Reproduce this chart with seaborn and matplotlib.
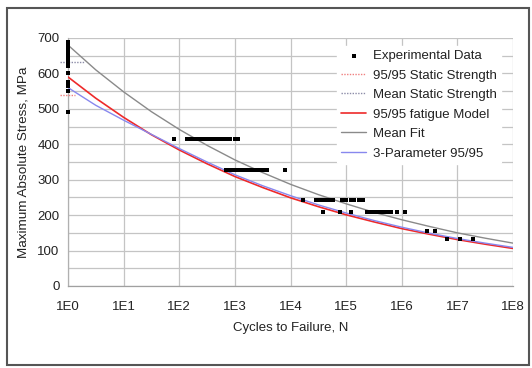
import matplotlib
matplotlib.use("Agg")
import matplotlib.pyplot as plt
import seaborn as sns
import numpy as np
import pandas as pd
from matplotlib.patches import Rectangle
from matplotlib.ticker import LogLocator, FixedLocator, NullFormatter

# ---------------- data ----------------
exp_cycles = [1, 1, 1, 1, 1, 1, 1, 1, 1, 1, 1, 1, 1, 1, 1, 1, 1, 1, 1,
              80, 140, 160, 180, 200, 220, 240, 260, 290, 320, 360, 400, 450, 520, 590, 700, 820, 1000, 1150,
              700, 800, 900, 1000, 1150, 1300, 1500, 1700, 1900, 2200, 2500, 2900, 3300, 3800, 8000,
              17000, 29000, 33000, 38000, 44000, 51000, 59000, 85000, 100000, 120000, 140000, 170000, 200000,
              39000, 78000, 120000, 240000, 280000, 330000, 390000, 460000, 550000, 650000, 830000, 1150000,
              2900000, 4000000,
              6600000, 11000000, 19000000]
exp_stress = [690, 685, 680, 675, 670, 665, 660, 655, 650, 645, 640, 635, 630, 620, 600, 575, 565, 550, 490,
              415, 415, 415, 415, 415, 415, 415, 415, 415, 415, 415, 415, 415, 415, 415, 415, 415, 415, 415,
              327, 327, 327, 327, 327, 327, 327, 327, 327, 327, 327, 327, 327, 327, 327,
              244, 244, 244, 244, 244, 244, 244, 244, 244, 244, 244, 244, 244,
              209, 209, 209, 209, 209, 209, 209, 209, 209, 209, 209, 209,
              156, 156,
              133, 133, 133]

curve_cycles = [1, 3.16e0, 1e1, 3.16e1, 1e2, 3.16e2, 1e3, 3.16e3, 1e4, 3.16e4,
                1e5, 3.16e5, 1e6, 3.16e6, 1e7, 3.16e7, 1e8]
mean_fit = [680, 610, 548, 492, 442, 397, 356, 320, 287, 258, 232, 208, 187, 168, 150, 135, 121]
fatigue_9595 = [590, 530, 476, 427, 384, 345, 309, 278, 249, 224, 201, 181, 162, 146, 131, 118, 106]
three_param = [560, 510, 468, 428, 388, 350, 314, 283, 255, 229, 206, 185, 166, 149, 134, 121, 109]

static_cycles_9595 = [0.72, 1.35]
static_9595 = [540, 540]
static_cycles_mean = [0.72, 2.0]
static_mean = [633, 633]

x_tick_labels = ["1E0", "1E1", "1E2", "1E3", "1E4", "1E5", "1E6", "1E7", "1E8"]
y_ticks = [0, 100, 200, 300, 400, 500, 600, 700]

# ---------------- figure ----------------
sns.set_style("white")
plt.rcParams["font.family"] = ["Liberation Sans", "DejaVu Sans"]

fig = plt.figure(figsize=(5.32, 3.68), dpi=100)
ax = fig.add_axes([68 / 532, 82 / 368, 445 / 532, 248 / 368])

txt = "#222222"

df_exp = pd.DataFrame({"N": exp_cycles, "S": exp_stress})
df_curve = pd.DataFrame({"N": curve_cycles, "mean": mean_fit,
                         "f9595": fatigue_9595, "p3": three_param})

sns.scatterplot(data=df_exp, x="N", y="S", ax=ax, marker="s", s=10, color="black",
                edgecolor="black", linewidth=0, label="Experimental Data", zorder=5,
                clip_on=False)
sns.lineplot(x=static_cycles_9595, y=static_9595, ax=ax, color="#f08080", lw=1,
             linestyle=(0, (1, 1)), label="95/95 Static Strength", clip_on=False,
             estimator=None, sort=False, zorder=4)
sns.lineplot(x=static_cycles_mean, y=static_mean, ax=ax, color="#8c8ca8", lw=1,
             linestyle=(0, (1, 1)), label="Mean Static Strength", clip_on=False,
             estimator=None, sort=False, zorder=4)
sns.lineplot(data=df_curve, x="N", y="f9595", ax=ax, color="#ee2a2a", lw=1.2,
             label="95/95 fatigue Model", estimator=None, sort=False, zorder=3)
sns.lineplot(data=df_curve, x="N", y="mean", ax=ax, color="#8a8a8a", lw=1.0,
             label="Mean Fit", estimator=None, sort=False, zorder=3)
sns.lineplot(data=df_curve, x="N", y="p3", ax=ax, color="#8888ee", lw=1.0,
             label="3-Parameter 95/95", estimator=None, sort=False, zorder=3)

ax.set_xscale("log")
ax.set_xlim(1, 1e8)
ax.set_ylim(0, 700)

ax.xaxis.set_major_locator(FixedLocator([10.0 ** i for i in range(9)]))
ax.set_xticklabels(x_tick_labels)
ax.xaxis.set_minor_locator(LogLocator(base=10, subs=np.arange(2, 10), numticks=100))
ax.xaxis.set_minor_formatter(NullFormatter())
ax.set_yticks(y_ticks)
ax.set_yticks(np.arange(50, 700, 100), minor=True)

ax.grid(True, which="major", axis="x", color="#c4c4c4", lw=0.9)
ax.grid(True, which="both", axis="y", color="#c4c4c4", lw=0.9)
ax.set_axisbelow(True)

for s in ["top", "right"]:
    ax.spines[s].set_visible(False)
ax.spines["left"].set_color("#b0b0b0")
ax.spines["bottom"].set_color("#a0a0a0")
ax.spines["left"].set_linewidth(0.9)
ax.spines["bottom"].set_linewidth(0.9)

ax.tick_params(axis="x", which="major", direction="inout", length=6, color="#a0a0a0",
               labelsize=9.5, labelcolor=txt, pad=8)
ax.tick_params(axis="x", which="minor", direction="inout", length=4, color="#a0a0a0")
ax.tick_params(axis="y", which="both", length=0, labelsize=9.5, labelcolor=txt, pad=6)

ax.set_xlabel("Cycles to Failure, N", fontsize=9.5, color=txt, labelpad=6)
ax.set_ylabel("Maximum Absolute Stress, MPa", fontsize=9.7, color=txt, labelpad=6)

leg = ax.legend(loc="upper right", bbox_to_anchor=(0.972, 0.968), frameon=True,
                fontsize=9.5, labelspacing=0.55, handlelength=1.9, handletextpad=0.5,
                borderpad=0.3, borderaxespad=0, markerscale=0.8)
leg.get_frame().set_facecolor("white")
leg.get_frame().set_edgecolor("white")
leg.get_frame().set_alpha(1)
for t in leg.get_texts():
    t.set_color(txt)

fig.patches.append(Rectangle((7 / 532, 3 / 368), 522 / 532, 357 / 368,
                             transform=fig.transFigure, fill=False,
                             edgecolor="#555555", lw=1.5))

fig.savefig("out.png", dpi=100)
